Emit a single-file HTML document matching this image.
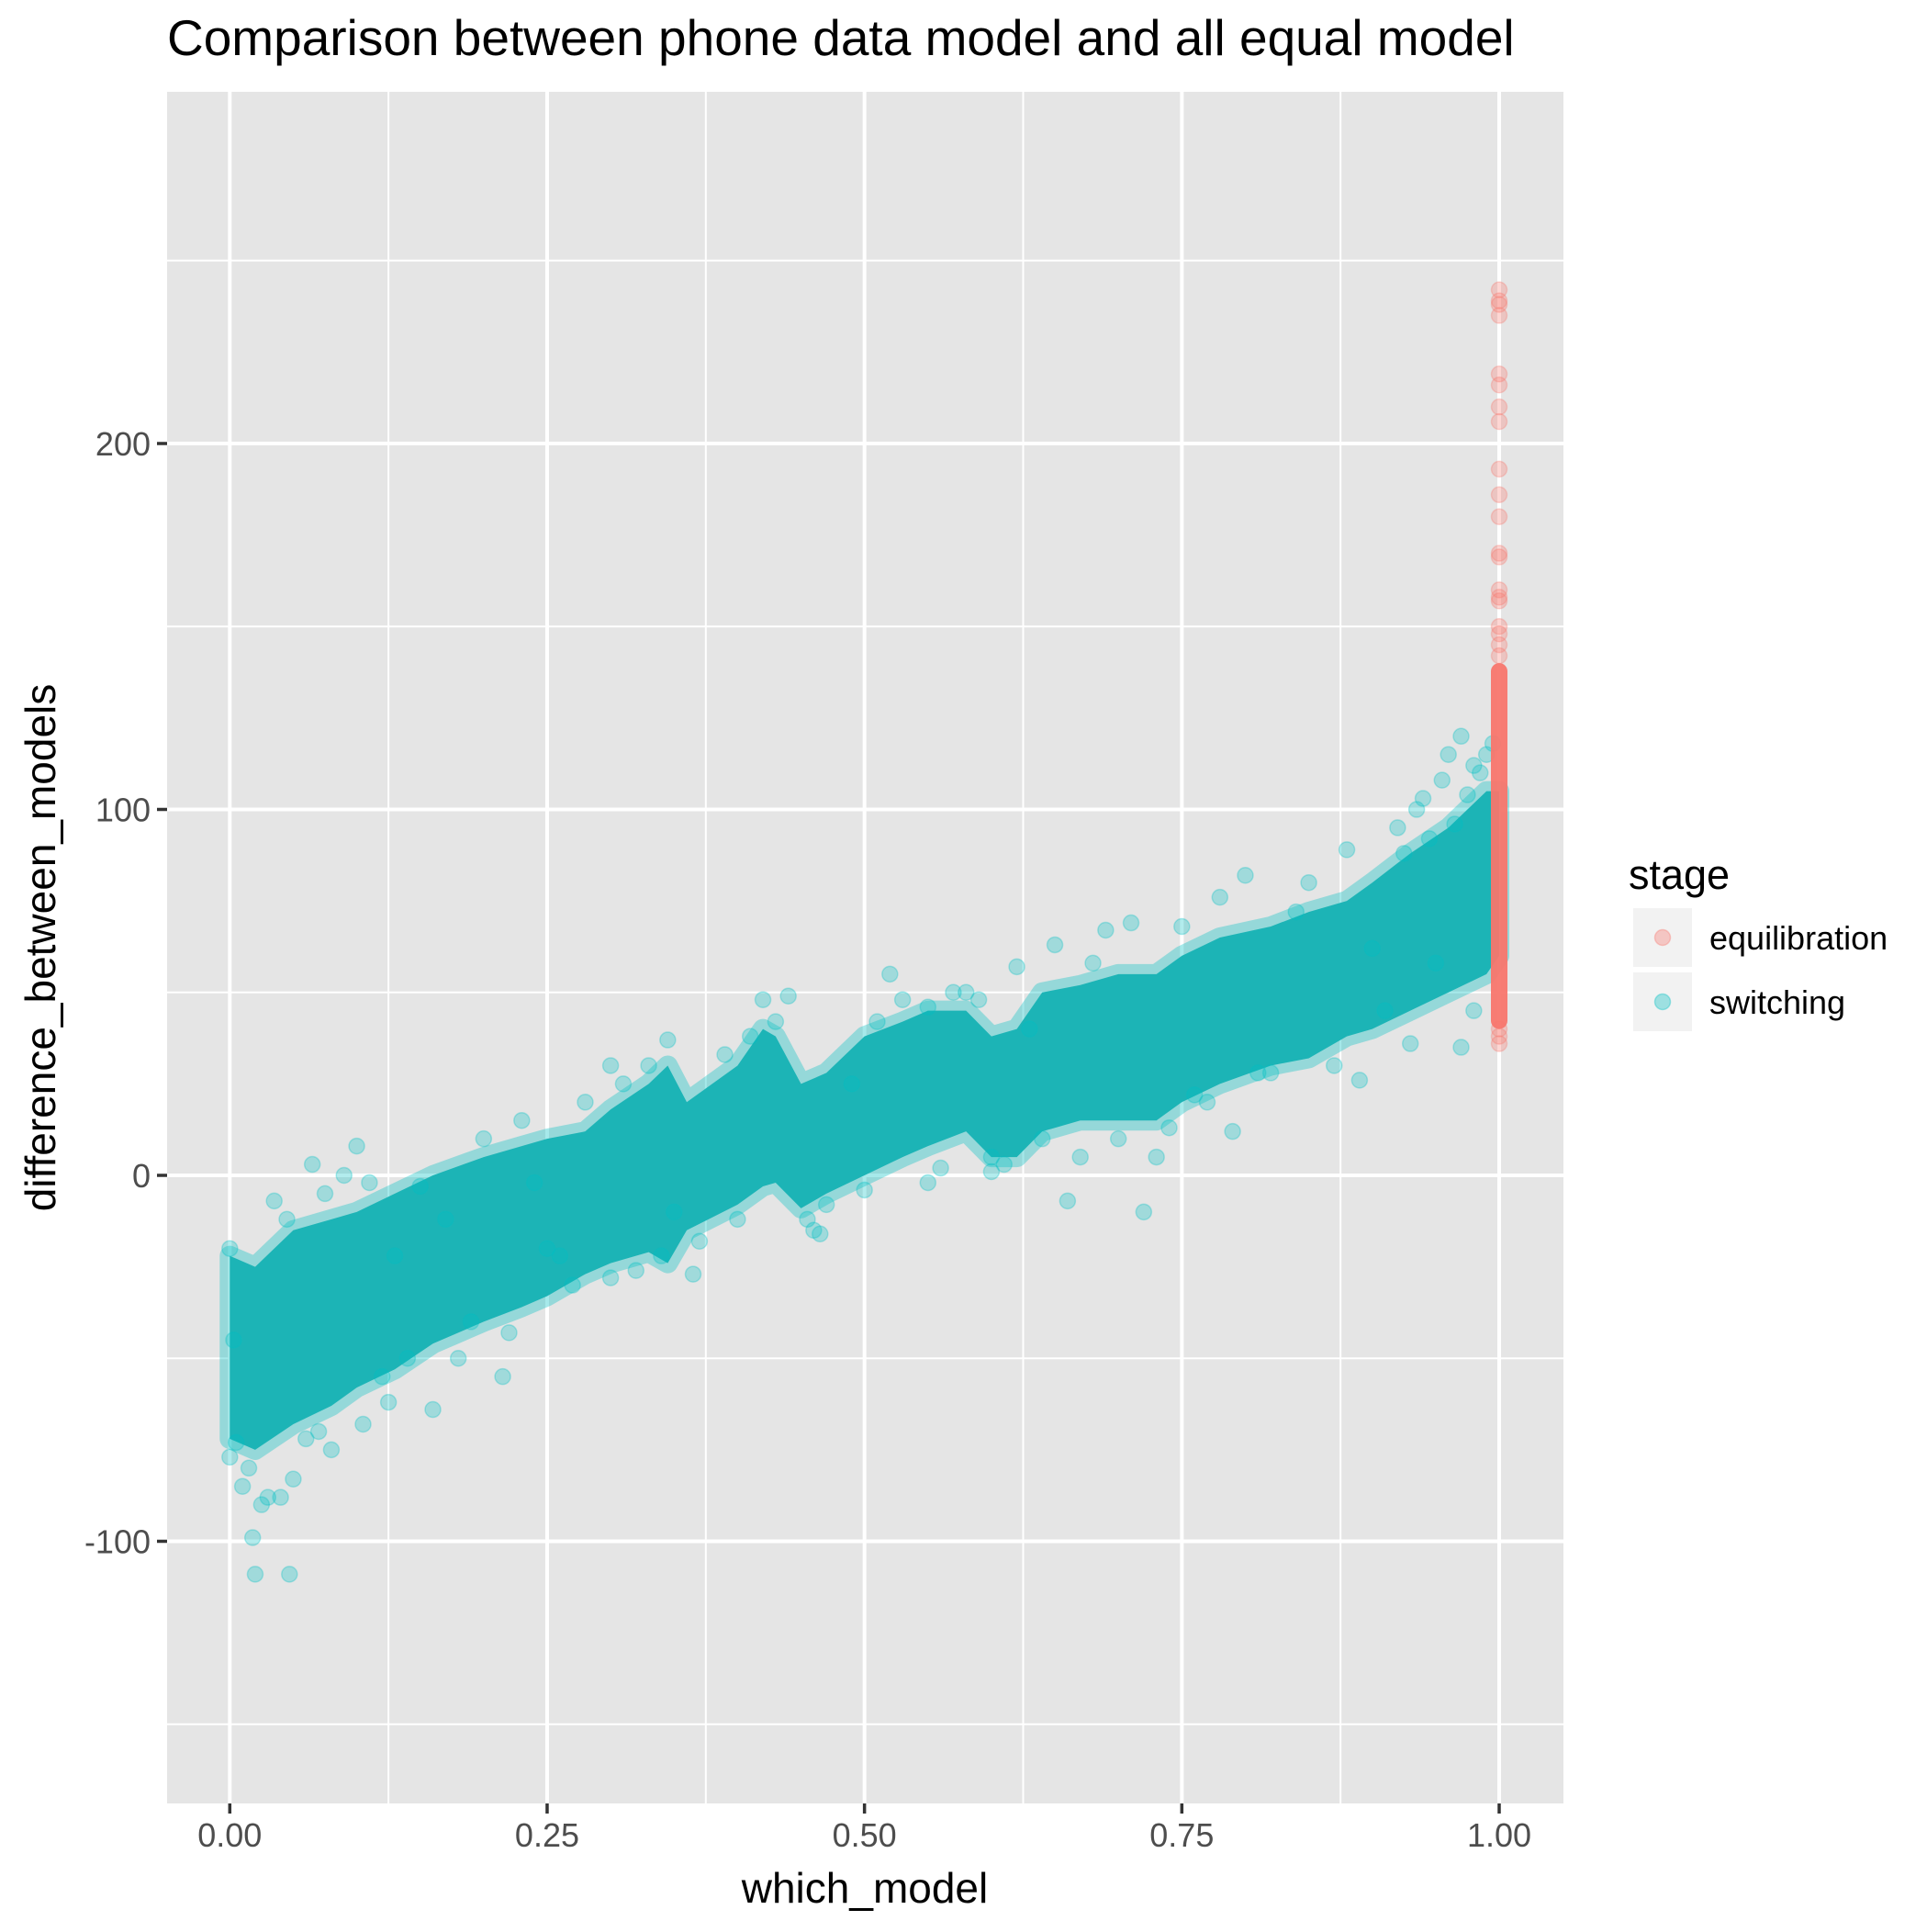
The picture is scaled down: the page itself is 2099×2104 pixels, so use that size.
<!DOCTYPE html>
<html><head><meta charset="utf-8"><style>
body{margin:0;background:#fff}
svg text{font-family:"Liberation Sans",Arial,sans-serif}
</style></head><body>
<svg id="chart" width="2099" height="2099" viewBox="0 0 2099 2099" xmlns="http://www.w3.org/2000/svg">
<rect width="2099" height="2099" fill="#fff"/>
<text x="182" y="60" font-size="55" fill="#000">Comparison between phone data model and all equal model</text>
<rect x="182" y="100" width="1521" height="1864" fill="#e5e5e5"/>
<g id="grid"></g>
<g id="core"></g>
<g id="pts"></g>
<g id="axes"></g>
<text x="942" y="2072" font-size="46" text-anchor="middle" fill="#000">which_model</text>
<text transform="translate(60,1032) rotate(-90)" font-size="46" text-anchor="middle" fill="#000">difference_between_models</text>
<g>
<text x="1774" y="968" font-size="45" fill="#000">stage</text>
<rect x="1778" y="988" width="66" height="66" fill="#f2f2f2" stroke="#fff" stroke-width="2"/>
<circle cx="1811" cy="1021" r="8.5" fill="#F8766D" fill-opacity="0.35" stroke="#F8766D" stroke-opacity="0.35" stroke-width="1.5"/>
<text x="1862" y="1034" font-size="36" fill="#000">equilibration</text>
<rect x="1778" y="1058" width="66" height="66" fill="#f2f2f2" stroke="#fff" stroke-width="2"/>
<circle cx="1811" cy="1091" r="8.5" fill="#00BFC4" fill-opacity="0.35" stroke="#00BFC4" stroke-opacity="0.35" stroke-width="1.5"/>
<text x="1862" y="1104" font-size="36" fill="#000">switching</text>
</g>
</svg>
<script>
const xTicks=[0,0.25,0.5,0.75,1];
const xTickLabels=["0.00","0.25","0.50","0.75","1.00"];
const xMinor=[0.125,0.375,0.625,0.875];
const yTicks=[-100,0,100,200];
const yTickLabels=["-100","0","100","200"];
const yMinor=[-150,-50,50,150,250];
// dense switching band envelope
const bandX=[0,0.02,0.05,0.08,0.1,0.13,0.16,0.2,0.23,0.25,0.28,0.3,0.33,0.345,0.36,0.4,0.42,0.43,0.45,0.47,0.5,0.53,0.55,0.58,0.6,0.62,0.64,0.67,0.7,0.73,0.75,0.78,0.82,0.85,0.88,0.9,0.93,0.96,0.99,1.0];
const bandLo=[-72,-75,-68,-63,-58,-53,-46,-40,-36,-33,-27,-24,-21,-24,-15,-8,-3,-2,-9,-5,0,5,8,12,5,5,12,15,15,15,20,25,30,32,38,40,45,50,55,60];
const bandHi=[-22,-25,-15,-12,-10,-5,0,5,8,10,12,18,25,30,20,30,40,38,25,28,38,42,45,45,38,40,50,52,55,55,60,65,68,72,75,80,88,95,105,105];
// scattered switching points
const swX=[0.02,0.047,0.018,0.03,0.04,0.01,0.015,0,0.005,0.08,0.05,0.215,0.16,0.125,0.065,0.1,0.11,0.09,0.035,0.15,0.2,0.23,0.28,0.3,0.345,0.34,0.365,0.42,0.44,0.43,0.465,0.455,0.5,0.53,0.55,0.58,0.6,0.61,0.62,0.65,0.66,0.69,0.71,0.7,0.72,0.75,0.78,0.8,0.79,0.85,0.88,0.89,0.94,0.96,0.97,0.98,0.92,0.93,0.97,0.98,0.35,0.25,0.4,0.3,0.22,0.18,0.12,0.07,0.55,0.6,0.52,0.0,0.003,0.025,0.06,0.13,0.17,0.24,0.27,0.32,0.37,0.39,0.47,0.49,0.57,0.63,0.67,0.74,0.77,0.82,0.87,0.91,0.95,0.99,0.995,0.985,0.975,0.965,0.955,0.945,0.935,0.925,0.045,0.075,0.105,0.14,0.19,0.26,0.31,0.33,0.41,0.46,0.51,0.56,0.59,0.64,0.68,0.73,0.76,0.81,0.84,0.9];
const swY=[-109,-109,-99,-88,-88,-85,-80,-77,-73,-75,-83,-55,-64,-62,3,8,-2,0,-7,-3,10,15,20,30,37,-22,-27,48,49,42,-16,-12,-4,48,46,50,1,3,57,63,-7,67,69,10,-10,68,76,82,12,80,89,26,103,115,120,112,95,36,35,45,-10,-20,-12,-28,-43,-50,-55,-70,-2,5,55,-20,-45,-90,-72,-22,-12,-2,-30,-26,-18,33,-8,25,50,40,5,13,20,28,30,45,58,115,118,110,104,96,108,92,100,88,-12,-5,-68,-50,-40,-22,25,30,38,-15,42,2,48,10,58,5,22,28,72,62];
// equilibration points (x = 1)
const eqY=[242,239,238,235,219,216,210,206,193,186,180,170,169,160,158,157,150,148,145,142,36,38,40];
const eqLo=[40], eqHi=[140];

const L=182,R=1703,T=100,B=1964;
const xs=v=>250.3+v*1382.7;
const ys=v=>1280-v*3.985;
const NS="http://www.w3.org/2000/svg";
function mk(tag,attrs,parent){const e=document.createElementNS(NS,tag);for(const k in attrs)e.setAttribute(k,attrs[k]);parent.appendChild(e);return e;}
const grid=document.getElementById('grid'),axes=document.getElementById('axes'),core=document.getElementById('core'),pts=document.getElementById('pts');
yMinor.forEach(v=>{const e=mk('line',{x1:L,x2:R,y1:ys(v),y2:ys(v),stroke:'#fff','stroke-width':2},grid);

});
xMinor.forEach(v=>{const e=mk('line',{x1:xs(v),x2:xs(v),y1:T,y2:B,stroke:'#fff','stroke-width':2},grid);

});
yTicks.forEach((v,i)=>{const e=mk('line',{x1:L,x2:R,y1:ys(v),y2:ys(v),stroke:'#fff','stroke-width':4},grid);


const t=mk('line',{x1:L-11,x2:L,y1:ys(v),y2:ys(v),stroke:'#333','stroke-width':3.5},axes);


const l=mk('text',{x:L-18,y:ys(v)+13,'font-size':36,'text-anchor':'end',fill:'#4d4d4d'},axes);l.textContent=yTickLabels[i];

});
xTicks.forEach((v,i)=>{const e=mk('line',{x1:xs(v),x2:xs(v),y1:T,y2:B,stroke:'#fff','stroke-width':4},grid);


const t=mk('line',{x1:xs(v),x2:xs(v),y1:B,y2:B+11,stroke:'#333','stroke-width':3.5},axes);


const l=mk('text',{x:xs(v),y:B+47,'font-size':36,'text-anchor':'middle',fill:'#4d4d4d'},axes);l.textContent=xTickLabels[i];

});
// band polygon
let d='';bandX.forEach((x,i)=>{d+=(i?'L':'M')+xs(x)+','+ys(bandHi[i]);});
for(let i=bandX.length-1;i>=0;i--)d+='L'+xs(bandX[i])+','+ys(bandLo[i]);d+='Z';
const halo=mk('path',{d:d,fill:'none',stroke:'#00BFC4','stroke-opacity':0.35,'stroke-width':22,'stroke-linejoin':'round'},core);


const band=mk('path',{d:d,fill:'#1cb4b6'},core);


swX.forEach((x,i)=>{const c=mk('circle',{cx:xs(x),cy:ys(swY[i]),r:8.5,fill:'#00BFC4','fill-opacity':0.3,stroke:'#00BFC4','stroke-opacity':0.3,'stroke-width':1.5},pts);

});
const col=mk('rect',{x:xs(1)-9,y:ys(eqHi[0]),width:18,height:ys(eqLo[0])-ys(eqHi[0]),rx:9,fill:'#F8766D','fill-opacity':0.95},pts);


eqY.forEach(v=>{const c=mk('circle',{cx:xs(1),cy:ys(v),r:8.5,fill:'#F8766D','fill-opacity':0.3,stroke:'#F8766D','stroke-opacity':0.3,'stroke-width':1.5},pts);

});
</script>
</body></html>
